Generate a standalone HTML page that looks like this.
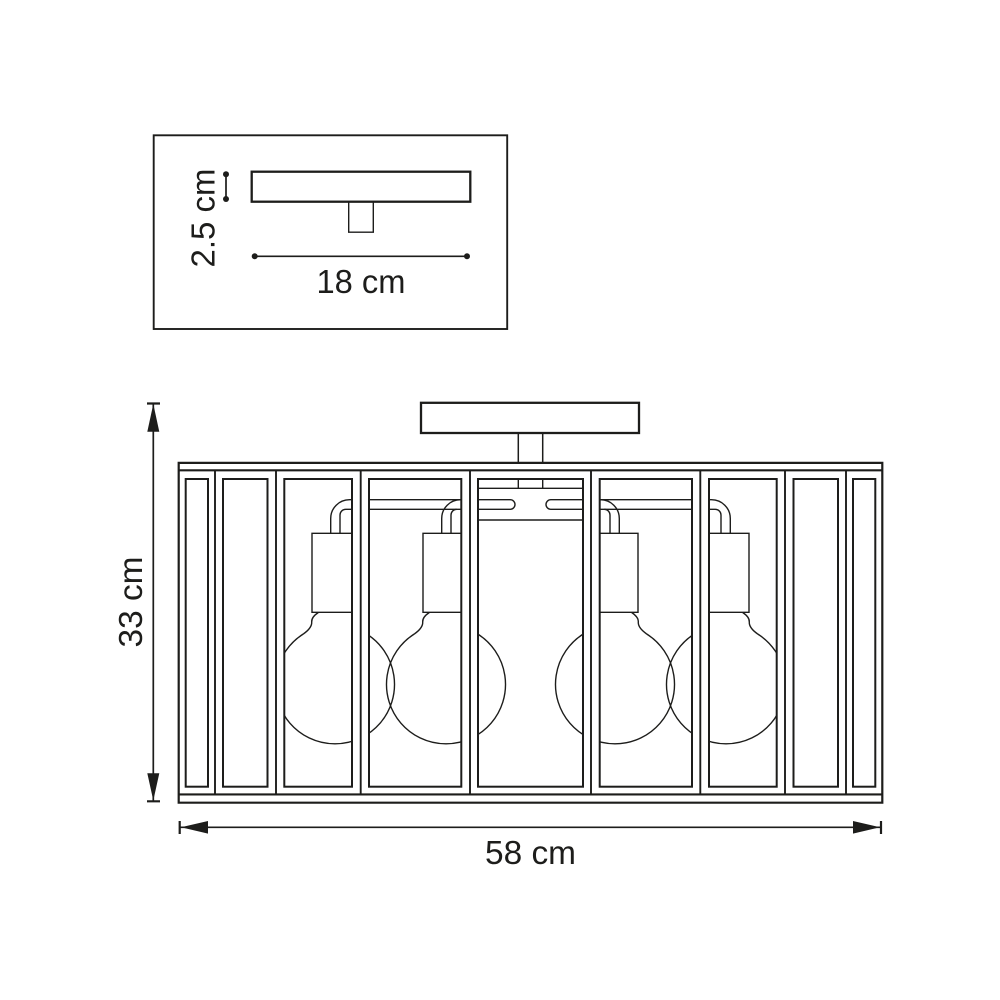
<!DOCTYPE html>
<html>
<head>
<meta charset="utf-8">
<style>
html,body{margin:0;padding:0;background:#fff;width:1000px;height:1000px;overflow:hidden}
svg{display:block}
text{font-family:"Liberation Sans",sans-serif;fill:#1d1d1b;font-size:33.5px}
</style>
</head>
<body>
<svg width="1000" height="1000" viewBox="0 0 1000 1000" xmlns="http://www.w3.org/2000/svg">
<defs>
<clipPath id="c">
<rect x="284.3" y="479" width="67.7" height="308"/>
<rect x="369" y="479" width="92.3" height="308"/>
<rect x="478" y="479" width="105" height="308"/>
</clipPath>
<g id="half" fill="none" stroke="#1d1d1b">
  <!-- panels -->
  <g stroke-width="2">
    <rect x="185.7" y="479" width="22.3" height="307.7"/>
    <rect x="223" y="479" width="44.5" height="307.7"/>
    <rect x="284.3" y="479" width="67.7" height="307.7"/>
    <rect x="369" y="479" width="92.3" height="307.7"/>
  </g>
  <!-- dividers -->
  <g stroke-width="1.9">
    <path d="M215 470V794M276 470V794M360.7 470V794M470 470V794"/>
  </g>
  <!-- sockets -->
  <g stroke-width="1.4">
    <path d="M352 533.3H312V612.3H352"/>
    <path d="M461 533.3H423V612.3H461"/>
    <!-- pipes -->
    <path d="M330.7 533.3V518.5A18.8 18.8 0 0 1 349.5 499.7H352"/>
    <path d="M340 533.3V515A5.7 5.7 0 0 1 345.7 509.3H352"/>
    <path d="M441.7 533.3V518.5A18.8 18.8 0 0 1 460.5 499.7"/>
    <path d="M451 533.3V515A5.7 5.7 0 0 1 456.7 509.3"/>
    <path d="M369 499.7H461M369 509.3H461"/>
    <path d="M478 499.7H510.2A4.8 4.8 0 0 1 510.2 509.3H478"/>
    <path d="M478 488.3H530.5M478 520H530.5M518.3 479V488.3"/>
    <!-- bulbs -->
    <g clip-path="url(#c)">
      <path d="M318.3 612.5C313 616 311.5 619 311.7 622C312 626 309 630 303.3 634"/>
      <path d="M303.3 634A59.5 59.5 0 1 0 366.7 634"/>
      <path d="M429.3 612.5C424 616 422.5 619 422.7 622C423 626 420 630 414.3 634"/>
      <path d="M414.3 634A59.5 59.5 0 1 0 477.7 634"/>
    </g>
  </g>
</g>
</defs>

<!-- inset box -->
<g fill="none" stroke="#1d1d1b">
  <rect x="153.7" y="135.3" width="353.5" height="193.7" stroke-width="1.9"/>
  <rect x="251.7" y="171.7" width="218.6" height="30" stroke-width="2.3"/>
  <path d="M348.7 201.7V232.2H373.3V201.7" stroke-width="1.4"/>
  <path d="M226 174.3V199M254.7 256.3H467" stroke-width="1.7"/>
</g>
<g fill="#1d1d1b">
  <circle cx="226" cy="174.3" r="3"/>
  <circle cx="226" cy="199" r="3"/>
  <circle cx="254.7" cy="256.3" r="3"/>
  <circle cx="467" cy="256.3" r="3"/>
</g>
<text x="361" y="293" text-anchor="middle" textLength="89" lengthAdjust="spacingAndGlyphs">18 cm</text>
<text transform="translate(214.5,267.5) rotate(-90)" textLength="99" lengthAdjust="spacingAndGlyphs">2.5 cm</text>

<!-- fixture -->
<g fill="none" stroke="#1d1d1b">
  <rect x="421" y="402.8" width="218" height="30.2" stroke-width="2.3"/>
  <path d="M518.3 433V463M542.7 433V463" stroke-width="1.5"/>
</g>
<use href="#half"/>
<use href="#half" transform="translate(1061,0) scale(-1,1)"/>
<g fill="none" stroke="#1d1d1b">
  <rect x="478" y="479" width="105" height="307.7" stroke-width="2"/>
  <path d="M178.7 462.9H882.3V802.7H178.7Z" stroke-width="2.2"/>
  <path d="M178.7 470.3H882.3M178.7 794.4H882.3" stroke-width="2.1"/>
</g>

<!-- dimensions -->
<g fill="none" stroke="#1d1d1b" stroke-width="1.7">
  <path d="M153.3 403.5V801.3"/>
  <path d="M147 403.5H160M147 801.3H160" stroke-width="2.2"/>
  <path d="M179.7 827.3H881"/>
  <path d="M179.7 821V834M881 821V834" stroke-width="2.2"/>
</g>
<g fill="#1d1d1b">
  <path d="M153.3 404L159.3 431.8H147.3Z"/>
  <path d="M153.3 800.5L159.3 773.2H147.3Z"/>
  <path d="M181 827.3L208 821V833.6Z"/>
  <path d="M880 827.3L853 821V833.6Z"/>
</g>
<text x="530.5" y="864" text-anchor="middle" textLength="91" lengthAdjust="spacingAndGlyphs">58 cm</text>
<text transform="translate(142,647.5) rotate(-90)" textLength="91" lengthAdjust="spacingAndGlyphs">33 cm</text>
</svg>
</body>
</html>
